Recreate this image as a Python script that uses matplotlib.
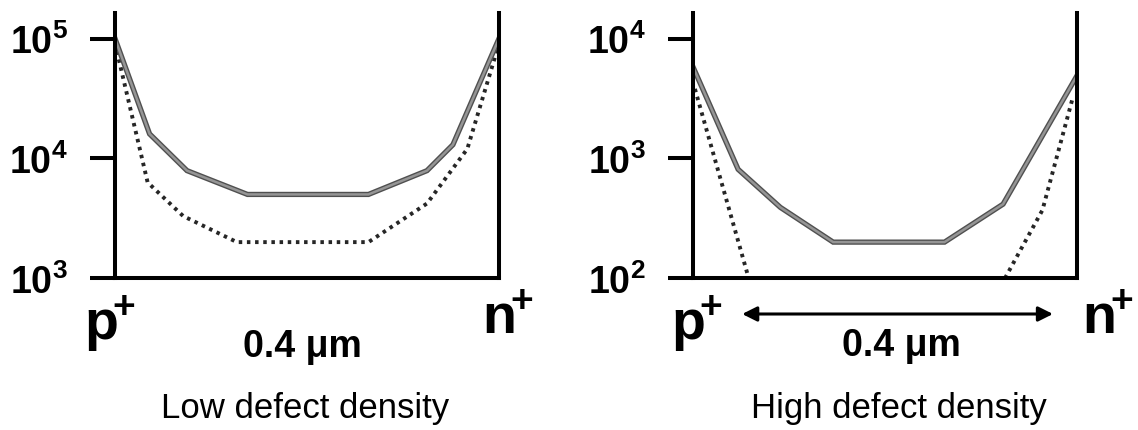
import matplotlib
matplotlib.use('Agg')
import matplotlib.pyplot as plt
import matplotlib.patheffects as pe

plt.rcParams['font.family'] = ['Liberation Sans', 'DejaVu Sans']
plt.rcParams['mathtext.fontset'] = 'custom'
plt.rcParams['mathtext.rm'] = 'Liberation Sans'
plt.rcParams['mathtext.bf'] = 'Liberation Sans:bold'

# position across the junction (um), carrier density
x_low_solid = [0, 0.036, 0.075, 0.138, 0.264, 0.325, 0.352, 0.4]
y_low_solid = [1e5, 1.6e4, 7.9e3, 5e3, 5e3, 7.9e3, 1.3e4, 1e5]
x_low_dot = [0.002, 0.034, 0.071, 0.127, 0.264, 0.325, 0.367, 0.398]
y_low_dot = [7.8e4, 6.3e3, 3.3e3, 2e3, 2e3, 4.2e3, 1.2e4, 8e4]

x_high_solid = [0, 0.047, 0.091, 0.146, 0.262, 0.323, 0.4]
y_high_solid = [5.8e3, 810, 390, 200, 200, 415, 4.9e3]
x_high_dot_p = [0.002, 0.058]
y_high_dot_p = [3.8e3, 100]
x_high_dot_n = [0.325, 0.364, 0.396]
y_high_dot_n = [100, 370, 3.3e3]

low_ticks = [1e3, 1e4, 1e5]
low_labels = [r'$\mathbf{10^{3}}$', r'$\mathbf{10^{4}}$', r'$\mathbf{10^{5}}$']
high_ticks = [1e2, 1e3, 1e4]
high_labels = [r'$\mathbf{10^{2}}$', r'$\mathbf{10^{3}}$', r'$\mathbf{10^{4}}$']

W, H = 1138, 431
fig = plt.figure(figsize=(W / 100, H / 100), dpi=100)

ax_bottom = (H - 279.2) / H
ax_height = (279.2 - 14) / H
ax1 = fig.add_axes([115 / W, ax_bottom, 384 / W, ax_height])
ax2 = fig.add_axes([693 / W, ax_bottom, 384 / W, ax_height])

solid_fx = [pe.Stroke(linewidth=3.8, foreground='#505050'), pe.Normal()]


def solid(ax, x, y):
    ax.plot(x, y, color='#959595', lw=1.8, zorder=3, solid_joinstyle='miter',
            path_effects=solid_fx)


def dotted(ax, x, y):
    ax.plot(x, y, color='#262626', lw=2.8, linestyle=(0, (0.9, 1.2)), zorder=2)


def style(ax, lo, ticks, labels):
    ax.set_yscale('log')
    ax.set_xlim(0, 0.4)
    ax.set_ylim(lo, lo * 10 ** 2.213)
    ax.spines['top'].set_visible(False)
    for s in ['left', 'right', 'bottom']:
        ax.spines[s].set_linewidth(2.9)
        ax.spines[s].set_capstyle('projecting')
        ax.spines[s].set_zorder(4)
    ax.set_xticks([])
    ax.set_yticks(ticks)
    ax.set_yticklabels(labels)
    ax.yaxis.set_minor_locator(matplotlib.ticker.NullLocator())
    ax.tick_params(axis='y', direction='out', length=18, width=2.9, pad=16,
                   labelsize=27, left=True, right=False)


dotted(ax1, x_low_dot, y_low_dot)
solid(ax1, x_low_solid, y_low_solid)
style(ax1, 1e3, low_ticks, low_labels)

dotted(ax2, x_high_dot_p, y_high_dot_p)
dotted(ax2, x_high_dot_n, y_high_dot_n)
solid(ax2, x_high_solid, y_high_solid)
style(ax2, 1e2, high_ticks, high_labels)


def ay(py):
    return (279.2 - py) / 265.2


def junction(ax, xf, letter):
    ax.text(xf, ay(293), r'$\mathbf{%s}^{\!\mathbf{+}}$' % letter,
            transform=ax.transAxes, fontsize=40, va='top', ha='center',
            clip_on=False)


junction(ax1, -0.014, 'p')
junction(ax1, 1.023, 'n')
junction(ax2, 0.009, 'p')
junction(ax2, 1.079, 'n')

ax1.text(0.487, ay(357), '0.4 μm', transform=ax1.transAxes, fontsize=27,
         fontweight='bold', va='baseline', ha='center')
ax2.text(0.544, ay(356), '0.4 μm', transform=ax2.transAxes, fontsize=27,
         fontweight='bold', va='baseline', ha='center')

ax2.annotate('', xy=(0.9375, ay(315)), xytext=(0.128, ay(315)),
             xycoords='axes fraction', textcoords='axes fraction',
             arrowprops=dict(arrowstyle='<|-|>', color='black', lw=2.2,
                             mutation_scale=22, shrinkA=0, shrinkB=0))

ax1.text(0.495, ay(418), 'Low defect density', transform=ax1.transAxes,
         fontsize=25, va='baseline', ha='center')
ax2.text(0.535, ay(418), 'High defect density', transform=ax2.transAxes,
         fontsize=25, va='baseline', ha='center')

fig.savefig('out.png', dpi=100)
